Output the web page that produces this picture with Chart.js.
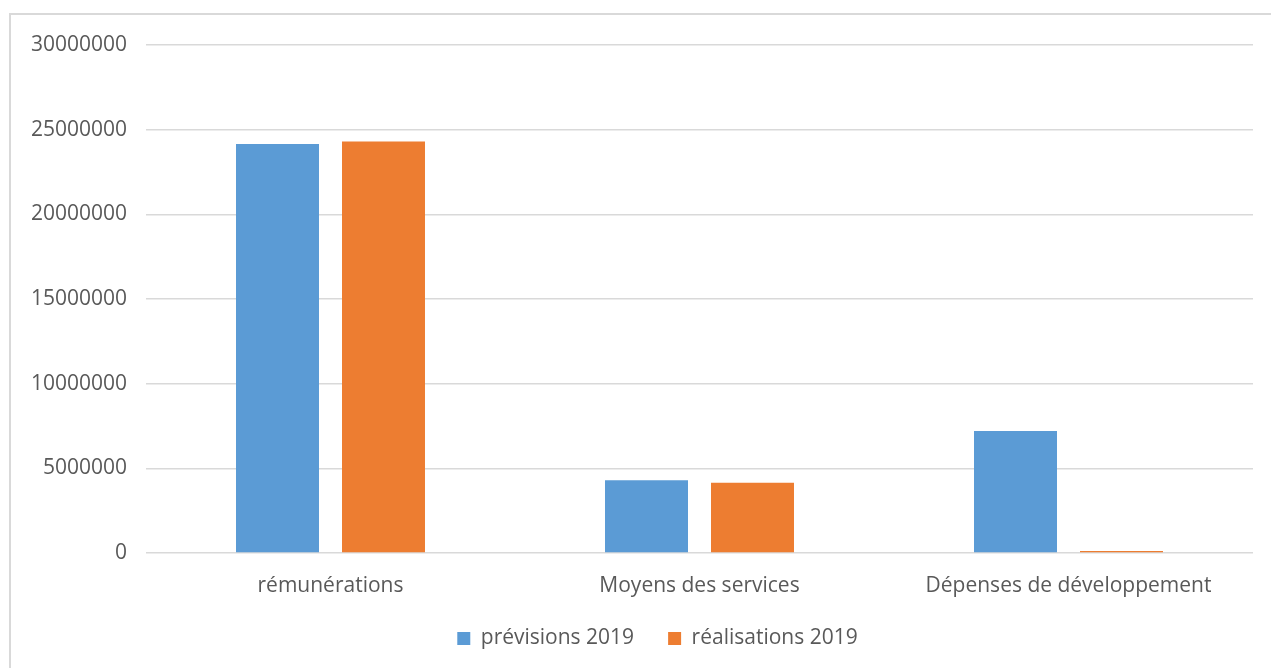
<!DOCTYPE html>
<html>
<head>
<meta charset="utf-8">
<script src="https://cdn.jsdelivr.net/npm/chart.js@4"></script>
<style>
  html, body { margin: 0; padding: 0; background: #fff; }
  #wrap { position: relative; width: 1271px; height: 668px; overflow: hidden; }
  #frame { position: absolute; left: 9px; top: 13px; right: -5px; bottom: -5px; border: 2px solid #D9D9D9; }
  canvas { position: absolute; left: 0; top: 0; }
</style>
</head>
<body>
<div id="wrap">
  <div id="frame"></div>
  <canvas id="c" width="1271" height="668"></canvas>
</div>
<script>
const categories = ["rémunérations", "Moyens des services", "Dépenses de développement"];
const seriesNames = ["prévisions 2019", "réalisations 2019"];
const previsions = [24150000, 4300000, 7200000];
const realisations = [24300000, 4150000, 120000];
const yTicks = [0, 5000000, 10000000, 15000000, 20000000, 25000000, 30000000];

const FONT = "'Open Sans', 'DejaVu Sans', sans-serif";
const TEXT = "#595959";

const shiftLegend = {
  id: "shiftLegend",
  afterLayout(chart) {
    const lg = chart.legend;
    if (lg) { lg.left += 31; lg.right += 31; lg.top -= 9; lg.bottom -= 9; }
  }
};

new Chart(document.getElementById("c"), {
  type: "bar",
  data: {
    labels: categories,
    datasets: [
      { label: seriesNames[0], data: previsions, backgroundColor: "#5B9BD5", borderWidth: 0,
        categoryPercentage: 0.5745, barPercentage: 0.783 },
      { label: seriesNames[1], data: realisations, backgroundColor: "#ED7D31", borderWidth: 0,
        categoryPercentage: 0.5745, barPercentage: 0.783 }
    ]
  },
  plugins: [shiftLegend],
  options: {
    responsive: false,
    animation: false,
    devicePixelRatio: 1,
    layout: { padding: { left: 0, right: 18, top: 45, bottom: 0 } },
    plugins: {
      tooltip: { enabled: false },
      legend: {
        position: "bottom",
        labels: {
          font: { family: FONT, size: 21 },
          color: TEXT,
          boxWidth: 13,
          boxHeight: 13,
          padding: 34
        }
      }
    },
    scales: {
      x: {
        grid: { display: false, drawTicks: false },
        border: { display: false },
        afterFit: (s) => { s.height = 50; },
        ticks: { font: { family: FONT, size: 21 }, color: TEXT, padding: 20, maxRotation: 0 }
      },
      y: {
        min: 0,
        max: 30000000,
        afterBuildTicks: (s) => { s.ticks = yTicks.map(v => ({ value: v })); },
        afterFit: (s) => { s.width = 146; },
        grid: { color: "#D9D9D9", lineWidth: 1.5, drawTicks: false },
        border: { display: false },
        ticks: {
          font: { family: FONT, size: 21 },
          color: TEXT,
          padding: 19,
          callback: (v) => String(v)
        }
      }
    }
  }
});
</script>
</body>
</html>
